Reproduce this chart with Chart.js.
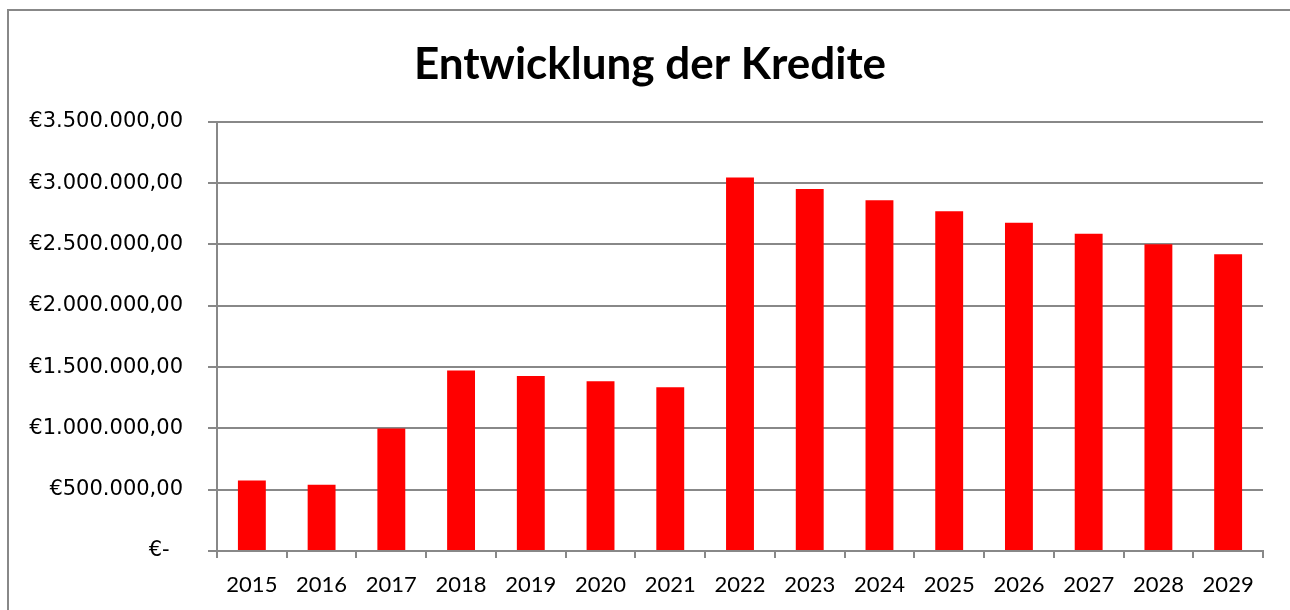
<!DOCTYPE html>
<html lang="de">
<head>
<meta charset="utf-8">
<title>Entwicklung der Kredite</title>
<script src="https://cdn.jsdelivr.net/npm/chart.js@4.4.1/dist/chart.umd.min.js"></script>
<style>
    html, body { margin: 0; padding: 0; background: #ffffff; }
    canvas { display: block; }
</style>
</head>
<body>
<canvas id="graficoKredite" width="1290" height="610"></canvas>
<script>
// Daten
const jahre = ["2015", "2016", "2017", "2018", "2019", "2020", "2021", "2022", "2023", "2024", "2025", "2026", "2027", "2028", "2029"];
const kredite = [574000, 541000, 998000, 1472000, 1428000, 1385000, 1336000, 3046000, 2951000, 2861000, 2771000, 2676000, 2588000, 2502000, 2420000];
const yTicks = [0, 500000, 1000000, 1500000, 2000000, 2500000, 3000000, 3500000];

const grau = "#888888";

// Euro-Format wie in Excel (Buchhaltung)
function euro(v) {
    if (v === 0) return "€-  ";
    const ganz = Math.round(v).toString().replace(/\B(?=(\d{3})+(?!\d))/g, ".");
    return "€" + ganz + ",00";
}

// Rahmen links und oben, Titel etwas nach rechts
const rahmen = {
    id: "rahmen",
    afterLayout(chart) {
        if (chart.titleBlock) chart.titleBlock.left += 27;
    },
    beforeDraw(chart) {
        const ctx = chart.ctx;
        ctx.save();
        ctx.fillStyle = "#ffffff";
        ctx.fillRect(0, 0, chart.width, chart.height);
        ctx.strokeStyle = grau;
        ctx.lineWidth = 2;
        ctx.beginPath();
        ctx.moveTo(8, chart.height);
        ctx.lineTo(8, 10);
        ctx.lineTo(chart.width, 10);
        ctx.stroke();
        ctx.restore();
    }
};

document.addEventListener("DOMContentLoaded", function () {
    new Chart(document.getElementById("graficoKredite"), {
        type: "bar",
        data: {
            labels: jahre,
            datasets: [
                {
                    label: "Kredite",
                    data: kredite,
                    backgroundColor: "#ff0000",
                    barPercentage: 0.4,
                    categoryPercentage: 1.0
                }
            ]
        },
        options: {
            responsive: false,
            animation: false,
            devicePixelRatio: 1,
            layout: {
                padding: { left: 10, right: 27, top: 0, bottom: 0 }
            },
            plugins: {
                legend: { display: false },
                tooltip: { enabled: false },
                title: {
                    display: true,
                    text: "Entwicklung der Kredite",
                    color: "#000000",
                    font: { family: "Lato", size: 44, weight: "bold", lineHeight: 1.2 },
                    padding: { top: 38, bottom: 31 }
                }
            },
            scales: {
                x: {
                    grid: {
                        display: true,
                        drawOnChartArea: false,
                        drawTicks: true,
                        tickLength: 7,
                        color: grau,
                        lineWidth: 2
                    },
                    border: { color: grau, width: 2 },
                    ticks: {
                        color: "#000000",
                        font: { family: "Lato", size: 22 },
                        padding: 14,
                        maxRotation: 0
                    },
                    afterFit(scale) { scale.height = 59; }
                },
                y: {
                    min: 0,
                    max: 3500000,
                    afterBuildTicks(scale) {
                        scale.ticks = yTicks.map(v => ({ value: v }));
                    },
                    grid: {
                        color: grau,
                        lineWidth: 2,
                        drawTicks: true,
                        tickLength: 9
                    },
                    border: { color: grau, width: 2 },
                    ticks: {
                        color: "#000000",
                        font: { family: "DejaVu Sans", size: 21 },
                        padding: 25,
                        callback: function (value) { return euro(value); }
                    },
                    afterFit(scale) { scale.width = 207; }
                }
            }
        },
        plugins: [rahmen]
    });
});
</script>
</body>
</html>
